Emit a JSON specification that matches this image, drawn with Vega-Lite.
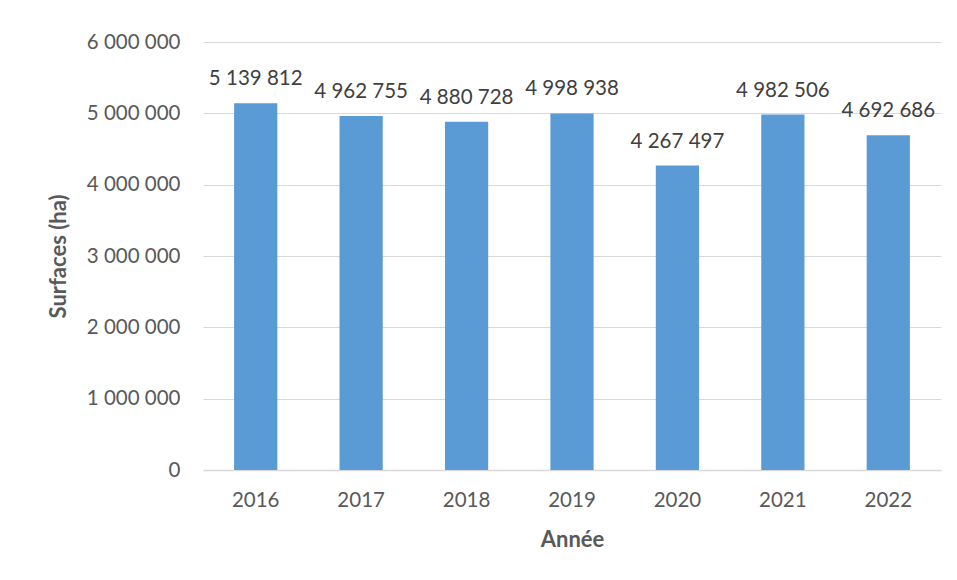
{
  "$schema": "https://vega.github.io/schema/vega-lite/v6.json",
  "width": 738,
  "height": 428,
  "autosize": {"type": "none"},
  "padding": {"left": 203, "top": 42, "right": 16, "bottom": 110},
  "background": "white",
  "config": {
    "locale": {"number": {"decimal": ",", "thousands": " ", "grouping": [3], "currency": ["", " €"]}},
    "font": "Lato",
    "view": {"stroke": null}
  },
  "data": {
    "values": [
      {"annee": "2016", "surface": 5139812},
      {"annee": "2017", "surface": 4962755},
      {"annee": "2018", "surface": 4880728},
      {"annee": "2019", "surface": 4998938},
      {"annee": "2020", "surface": 4267497},
      {"annee": "2021", "surface": 4982506},
      {"annee": "2022", "surface": 4692686}
    ]
  },
  "encoding": {
    "x": {
      "field": "annee",
      "type": "nominal",
      "scale": {"paddingInner": 0.59, "paddingOuter": 0.295},
      "axis": {
        "title": "Année",
        "titleFont": "Lato",
        "titleFontSize": 22,
        "titleFontWeight": "bold",
        "titleColor": "#595959",
        "titlePadding": 19,
        "labelAngle": 0,
        "labelFont": "Lato",
        "labelFontSize": 20.5,
        "labelColor": "#595959",
        "labelPadding": 20,
        "ticks": false,
        "domainColor": "#d9d9d9",
        "domainWidth": 1.5
      }
    },
    "y": {
      "field": "surface",
      "type": "quantitative",
      "scale": {"domain": [0, 6000000]},
      "axis": {
        "title": "Surfaces (ha)",
        "titleFont": "Lato",
        "titleFontSize": 22,
        "titleFontWeight": "bold",
        "titleColor": "#595959",
        "titleX": -133,
        "titleY": 214,
        "values": [0, 1000000, 2000000, 3000000, 4000000, 5000000, 6000000],
        "format": ",d",
        "labelFont": "Lato",
        "labelFontSize": 20.5,
        "labelColor": "#595959",
        "labelPadding": 23,
        "ticks": false,
        "domain": false,
        "grid": true,
        "gridColor": "#d9d9d9",
        "gridWidth": 1.2
      }
    }
  },
  "layer": [
    {"mark": {"type": "bar", "color": "#5b9bd5"}},
    {
      "mark": {"type": "text", "baseline": "middle", "align": "center", "dy": -24, "fontSize": 20.5, "font": "Lato", "color": "#404040"},
      "encoding": {"text": {"field": "surface", "type": "quantitative", "format": ",d"}}
    }
  ]
}
